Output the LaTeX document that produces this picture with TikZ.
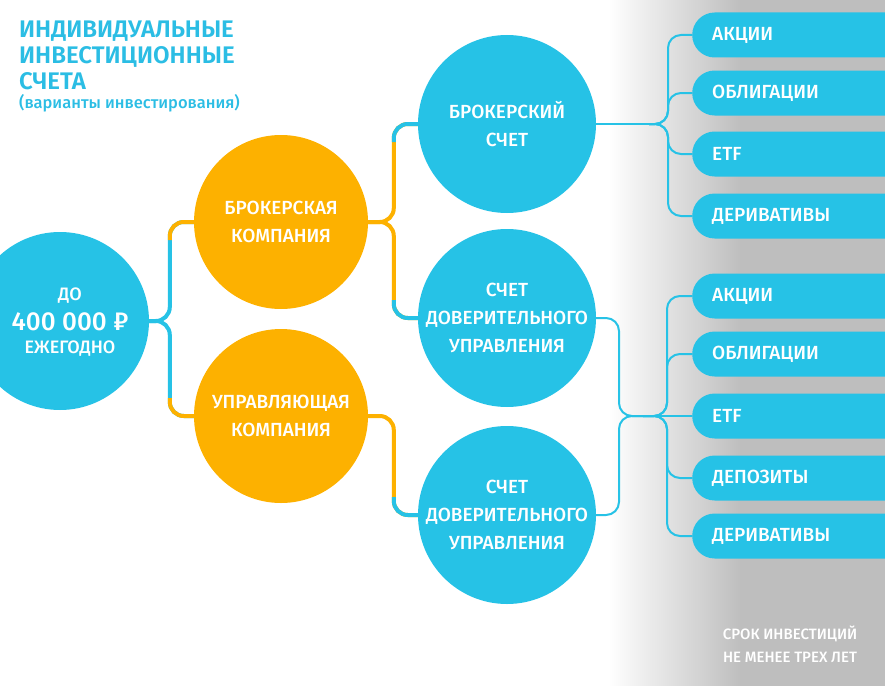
\documentclass[tikz,border=0pt]{standalone}
\usepackage{fontspec}
\setmainfont{Fira Sans}[UprightFont=* Medium, BoldFont=* SemiBold]
\usetikzlibrary{calc}
\definecolor{cblue}{RGB}{38,194,230}
\definecolor{corange}{RGB}{253,177,0}
\definecolor{cgray}{RGB}{190,190,190}
\definecolor{ctitle}{RGB}{43,189,228}
\begin{document}
\begin{tikzpicture}[x=1pt,y=-1pt,
  bc/.style={circle, fill=cblue, minimum size=178pt, inner sep=0pt, text=white, align=center, font=\fontsize{19}{28}\selectfont},
  oc/.style={bc, fill=corange, minimum size=174pt},
  pill/.style={fill=cblue, rounded corners=22.5pt, minimum height=45pt, minimum width=240pt, anchor=west, text=white, text width=200pt, align=left, inner xsep=18pt, font=\fontsize{19}{22}\selectfont},
  thickline/.style={line width=4pt, rounded corners=14pt},
  thinline/.style={line width=2pt, rounded corners=13pt, draw=cblue},
  wt/.style={text=white, inner sep=0pt, anchor=base}]
\useasboundingbox (0,0) rectangle (885,685);
\clip (0,0) rectangle (885,685);
% background
\fill[cgray] (740,0) rectangle (886,686);
\shade[left color=white, right color=cgray] (608,0) rectangle (741,686);
% title
\node[anchor=north west, align=left, inner sep=0pt, text=ctitle, font=\bfseries\fontsize{24}{26}\selectfont] (T) at (19,21) {ИНДИВИДУАЛЬНЫЕ\\ИНВЕСТИЦИОННЫЕ\\СЧЕТА};
\node[anchor=base west, inner sep=0pt, text=ctitle, font=\fontsize{16.5}{18}\selectfont] (ST) at (19,108) {(варианты инвестирования)};
% circles
\node[bc] (L) at (60,321) {};
\node[wt, font=\fontsize{18}{20}\selectfont] (L1) at (70,300) {ДО};
\node[wt, font=\fontsize{26}{30}\selectfont] (L2) at (70,330) {400 000 ₽};
\node[wt, font=\fontsize{18}{20}\selectfont] (L3) at (70,353) {ЕЖЕГОДНО};
\node[oc] (O1) at (281,222) {БРОКЕРСКАЯ\\КОМПАНИЯ};
\node[oc] (O2) at (281,416) {УПРАВЛЯЮЩАЯ\\КОМПАНИЯ};
\node[bc] (B1) at (507,124) {БРОКЕРСКИЙ\\СЧЕТ};
\node[bc] (D1) at (507,318) {СЧЕТ\\ДОВЕРИТЕЛЬНОГО\\УПРАВЛЕНИЯ};
\node[bc] (D2) at (507,515) {СЧЕТ\\ДОВЕРИТЕЛЬНОГО\\УПРАВЛЕНИЯ};
% pills
\node[pill] (P1) at (692,35) {АКЦИИ};
\node[pill] (P2) at (692,93) {ОБЛИГАЦИИ};
\node[pill] (P3) at (692,154) {ETF};
\node[pill] (P4) at (692,216) {ДЕРИВАТИВЫ};
\node[pill] (Q1) at (692,296) {АКЦИИ};
\node[pill] (Q2) at (692,354) {ОБЛИГАЦИИ};
\node[pill] (Q3) at (692,416) {ETF};
\node[pill] (Q4) at (692,478) {ДЕПОЗИТЫ};
\node[pill] (Q5) at (692,536) {ДЕРИВАТИВЫ};
% note
\node[align=center, text=white, inner sep=0pt, font=\fontsize{15}{23}\selectfont] (N) at (790,644) {СРОК ИНВЕСТИЦИЙ\\НЕ МЕНЕЕ ТРЕХ ЛЕТ};
% thick connectors
\draw[thickline, cblue] (L.east) -| ([xshift=-24pt]O1.west) -- (O1.west);
\draw[thickline, cblue] (L.east) -| ([xshift=-24pt]O2.west) -- (O2.west);
\draw[thickline, corange] ([xshift=-24pt,yshift=-18pt]O1.west) |- (O1.west);
\draw[thickline, corange] ([xshift=-24pt,yshift=18pt]O2.west) |- (O2.west);
\draw[thickline, corange] (O1.east) -| ([xshift=-24pt]B1.west) -- (B1.west);
\draw[thickline, corange] (O1.east) -| ([xshift=-24pt]D1.west) -- (D1.west);
\draw[thickline, corange] (O2.east) -| ([xshift=-24pt]D2.west) -- (D2.west);
\draw[thickline, cblue] ([xshift=-24pt,yshift=-18pt]B1.west) |- (B1.west);
\draw[thickline, cblue] ([xshift=-24pt,yshift=18pt]D1.west) |- (D1.west);
\draw[thickline, cblue] ([xshift=-24pt,yshift=18pt]D2.west) |- (D2.west);
% thin connectors, top group
\coordinate (J1) at ($(B1.east)+(53,0)$);
\draw[thinline] (B1.east) -- (J1);
\foreach \p in {P1,P2,P3,P4} \draw[thinline] (J1) -| ([xshift=-24pt]\p.west) -- (\p.west);
% thin connectors, bottom group
\coordinate (J2) at ([xshift=-49pt]Q3.west);
\draw[thinline] (D1.east) -| ([xshift=-24pt]J2) -- (J2);
\draw[thinline] (D2.east) -| ([xshift=-24pt]J2) -- (J2);
\draw[thinline] (J2) -- (Q3.west);
\foreach \q in {Q1,Q2,Q4,Q5} \draw[thinline] (J2) -| ([xshift=-25pt]\q.west) -- (\q.west);
\end{tikzpicture}
\end{document}
